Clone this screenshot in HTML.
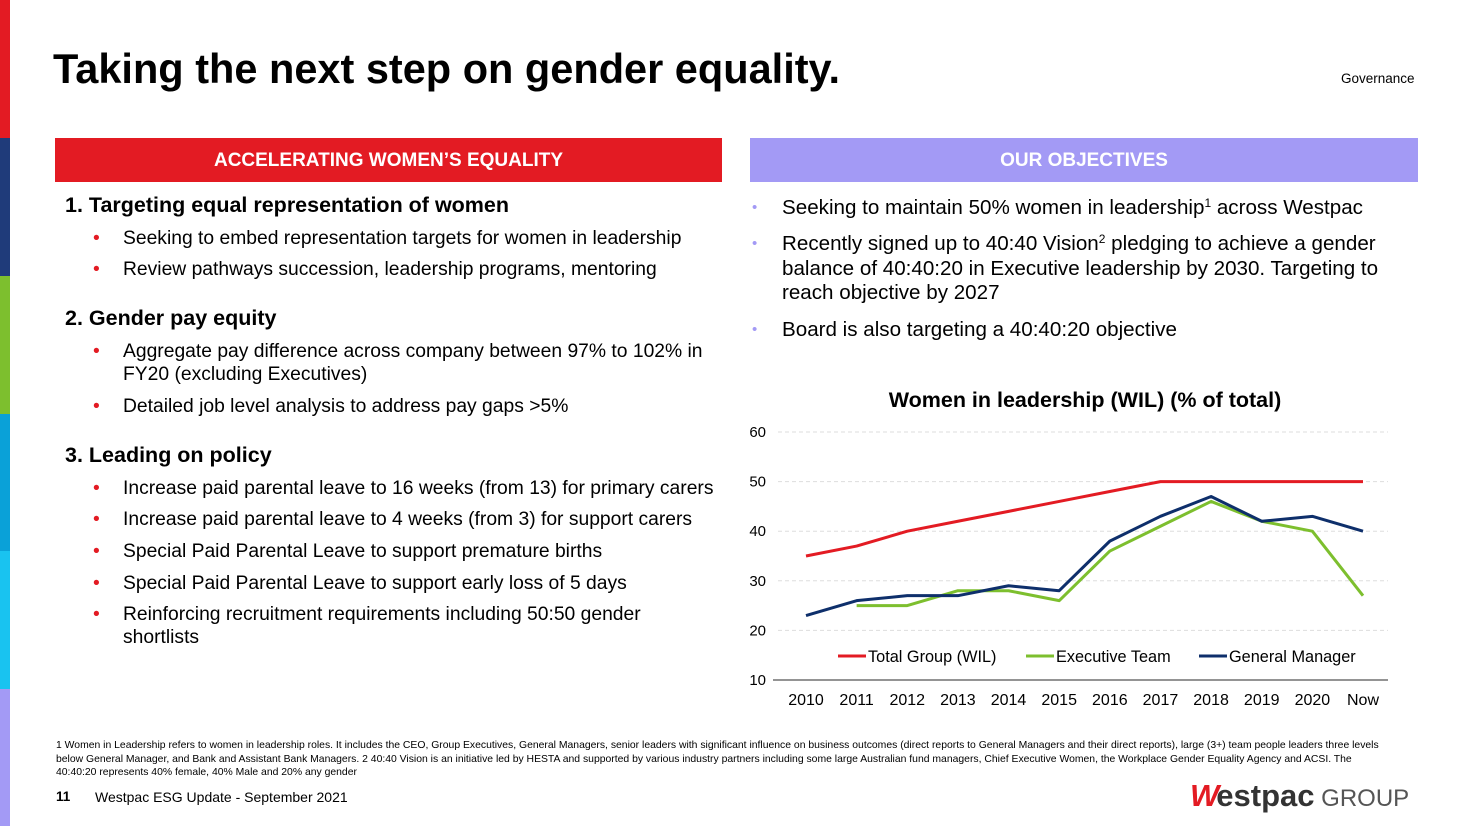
<!DOCTYPE html>
<html><head><meta charset="utf-8"><style>
body{margin:0;width:1469px;height:826px;position:relative;background:#fff;font-family:"Liberation Sans",Arial,sans-serif;overflow:hidden;color:#000}
.abs{position:absolute}
.stripe{position:absolute;left:0;width:10px}
.hdr{position:absolute;height:44px;top:138px;color:#fff;font-weight:bold;font-size:19px;text-align:center;line-height:46px}
.b{position:absolute;font-size:19.3px;line-height:23px}
.b::before{content:"•";position:absolute;left:-30px}
.lb::before{color:#e31b23}
.rb::before{color:#a39af5;font-size:15px}
.h{position:absolute;font-weight:bold;font-size:21.5px}
sup{font-size:12px;line-height:0;vertical-align:7px}
</style></head><body>
<div class="stripe" style="top:0;height:138px;background:#e31b23"></div>
<div class="stripe" style="top:138px;height:138px;background:#1f3b7a"></div>
<div class="stripe" style="top:276px;height:138px;background:#7dbf2e"></div>
<div class="stripe" style="top:414px;height:137px;background:#0aa1d8"></div>
<div class="stripe" style="top:551px;height:138px;background:#19c3f0"></div>
<div class="stripe" style="top:689px;height:137px;background:#a39af5"></div>

<div class="abs" style="left:53px;top:45px;font-size:41.5px;font-weight:bold">Taking the next step on gender equality.</div>
<div class="abs" style="left:1341px;top:71px;font-size:13.5px">Governance</div>

<div class="hdr" style="left:55px;width:667px;background:#e31b23">ACCELERATING WOMEN’S EQUALITY</div>
<div class="hdr" style="left:750px;width:668px;background:#a39af5">OUR OBJECTIVES</div>

<div class="h" style="left:65px;top:193px">1. Targeting equal representation of women</div>
<div class="b lb" style="left:123px;top:227px">Seeking to embed representation targets for women in leadership</div>
<div class="b lb" style="left:123px;top:258px">Review pathways succession, leadership programs, mentoring</div>
<div class="h" style="left:65px;top:306px">2. Gender pay equity</div>
<div class="b lb" style="left:123px;top:340px;width:600px">Aggregate pay difference across company between 97% to 102% in FY20 (excluding Executives)</div>
<div class="b lb" style="left:123px;top:395px">Detailed job level analysis to address pay gaps &gt;5%</div>
<div class="h" style="left:65px;top:443px">3. Leading on policy</div>
<div class="b lb" style="left:123px;top:477px">Increase paid parental leave to 16 weeks (from 13) for primary carers</div>
<div class="b lb" style="left:123px;top:508px">Increase paid parental leave to 4 weeks (from 3) for support carers</div>
<div class="b lb" style="left:123px;top:540px">Special Paid Parental Leave to support premature births</div>
<div class="b lb" style="left:123px;top:572px">Special Paid Parental Leave to support early loss of 5 days</div>
<div class="b lb" style="left:123px;top:603px;width:560px">Reinforcing recruitment requirements including 50:50 gender shortlists</div>

<div class="b rb" style="left:782px;top:196px;font-size:20.6px">Seeking to maintain 50% women in leadership<sup>1</sup> across Westpac</div>
<div class="b rb" style="left:782px;top:232px;width:615px;line-height:24.5px;font-size:20.6px">Recently signed up to 40:40 Vision<sup>2</sup> pledging to achieve a gender balance of 40:40:20 in Executive leadership by 2030. Targeting to reach objective by 2027</div>
<div class="b rb" style="left:782px;top:318px;font-size:20.6px">Board is also targeting a 40:40:20 objective</div>

<div class="abs" style="left:740px;top:388px;width:690px;text-align:center;font-weight:bold;font-size:21.5px">Women in leadership (WIL) (% of total)</div>
<svg class="abs" style="left:0;top:0" width="1469" height="826" id="chart"></svg>

<div class="abs" style="left:56px;top:739px;width:1330px;font-size:10.4px;line-height:13.5px">1 Women in Leadership refers to women in leadership roles. It includes the CEO, Group Executives, General Managers, senior leaders with significant influence on business outcomes (direct reports to General Managers and their direct reports), large (3+) team people leaders three levels below General Manager, and Bank and Assistant Bank Managers. 2 40:40 Vision is an initiative led by HESTA and supported by various industry partners including some large Australian fund managers, Chief Executive Women, the Workplace Gender Equality Agency and ACSI. The 40:40:20 represents 40% female, 40% Male and 20% any gender</div>
<div class="abs" style="left:56px;top:789px;font-size:13.5px;font-weight:bold">11</div>
<div class="abs" style="left:95px;top:789px;font-size:14px">Westpac ESG Update - September 2021</div>
<div class="abs" style="left:1190px;top:779px;font-size:31px;line-height:34px;white-space:nowrap"><span style="color:#e31b23;font-weight:900;font-style:italic;letter-spacing:-3px">W</span><span style="color:#333;font-weight:bold">estpac</span><span style="color:#555;font-size:24px"> GROUP</span></div>

<script>
const categories=["2010","2011","2012","2013","2014","2015","2016","2017","2018","2019","2020","Now"];
const totalGroup=[35,37,40,42,44,46,48,50,50,50,50,50];
const executiveTeam=[null,25,25,28,28,26,36,41,46,42,40,27];
const generalManager=[23,26,27,27,29,28,38,43,47,42,43,40];
const yTicks=[10,20,30,40,50,60];
const svg=document.getElementById('chart');
const NS='http://www.w3.org/2000/svg';
const x=i=>806+i*(1363-806)/(categories.length-1);
const y=v=>680-(v-10)*(248/50);
function mk(t,a){const e=document.createElementNS(NS,t);for(const k in a)e.setAttribute(k,a[k]);svg.appendChild(e);return e;}
yTicks.forEach(v=>{
  if(v>10){const g=mk('line',{x1:778,x2:1388,y1:y(v),y2:y(v),stroke:'#ddd','stroke-dasharray':'4,3'});
  
  }
  const t=mk('text',{x:766,y:y(v)+5,'text-anchor':'end','font-size':15,'font-family':'Liberation Sans'});t.textContent=v;
  
  
});
const ax=mk('line',{x1:773,x2:1388,y1:680,y2:680,stroke:'#555','stroke-width':1.3});


categories.forEach((c,i)=>{const t=mk('text',{x:x(i),y:705,'text-anchor':'middle','font-size':16,'font-family':'Liberation Sans'});t.textContent=c;
  
  });
function line(data,color,name){
  let d='';data.forEach((v,i)=>{if(v==null)return;d+=(d?'L':'M')+x(i)+','+y(v);});
  const p=mk('path',{d:d,fill:'none',stroke:color,'stroke-width':3,'stroke-linejoin':'round'});
  
  
}
line(totalGroup,'#e31b23','series-total-group');
line(executiveTeam,'#7dbf2e','series-executive-team');
line(generalManager,'#0e2f6b','series-general-manager');
[['Total Group (WIL)','#e31b23',838],['Executive Team','#7dbf2e',1026],['General Manager','#0e2f6b',1199]].forEach(l=>{
  const s=mk('line',{x1:l[2],x2:l[2]+28,y1:656,y2:656,stroke:l[1],'stroke-width':3});
  
  
  const t=mk('text',{x:l[2]+30,y:662,'font-size':16.3,'font-family':'Liberation Sans'});t.textContent=l[0];
  
  
});
</script>
</body></html>
